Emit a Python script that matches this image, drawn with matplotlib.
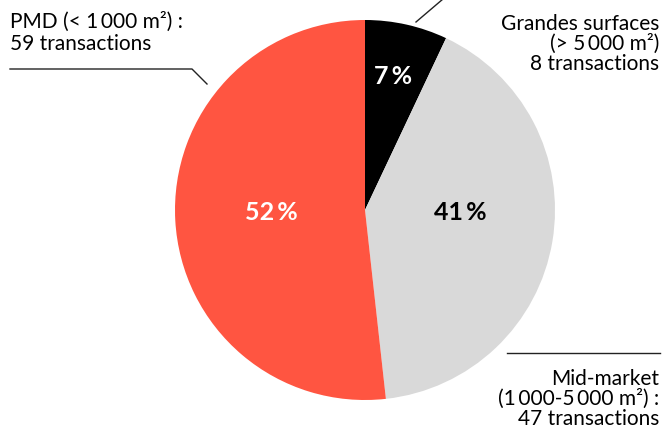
import matplotlib.pyplot as plt

# transactions per segment, clockwise from 12 o'clock
segments = ['Grandes surfaces', 'Mid-market', 'PMD']
transactions = [8, 47, 59]
pct_labels = ['7\u2009%', '41\u2009%', '52\u2009%']
colors = ['#000000', '#d9d9d9', '#ff5541']
pct_colors = ['white', 'black', 'white']

W, H = 665, 429
fig = plt.figure(figsize=(W / 100, H / 100), dpi=100)
ax = fig.add_axes([0, 0, 1, 1])

fam = ['Lato', 'DejaVu Sans']

# y axis is inverted, so counterclock=True draws clockwise on screen
wedges, _ = ax.pie(transactions, colors=colors, startangle=-90, counterclock=True,
                   center=(365, 210), radius=190, frame=True,
                   wedgeprops=dict(linewidth=0))
ax.set_xlim(0, W)
ax.set_ylim(H, 0)
ax.set_aspect('equal')
ax.axis('off')

pct_pos = [(393, 77), (460, 213), (271, 213)]
for (x, y), t, c in zip(pct_pos, pct_labels, pct_colors):
    ax.text(x, y, t, ha='center', va='center', fontsize=18, fontweight='bold',
            color=c, family=fam)

# segment labels
ax.text(10, 33, 'PMD (< 1\u2009000 m\u00b2) :\n59 transactions', ha='left', va='center',
        fontsize=15, family=fam, linespacing=1.12)
ax.text(659, 44, 'Grandes surfaces\n(> 5\u2009000 m\u00b2)\n8 transactions', ha='right',
        va='center', fontsize=15, family=fam, linespacing=0.98)
ax.text(659, 399, 'Mid-market\n(1\u2009000-5\u2009000 m\u00b2) :\n47 transactions', ha='right',
        va='center', fontsize=15, family=fam, linespacing=0.98)

# leader lines
lc = '#222222'
ax.plot([10, 192, 207], [69, 69, 84], color=lc, lw=1)
ax.plot([416, 443], [22, -1], color=lc, lw=1)
ax.plot([507, 660], [353, 353], color=lc, lw=1)

fig.savefig('out.png', dpi=100)
